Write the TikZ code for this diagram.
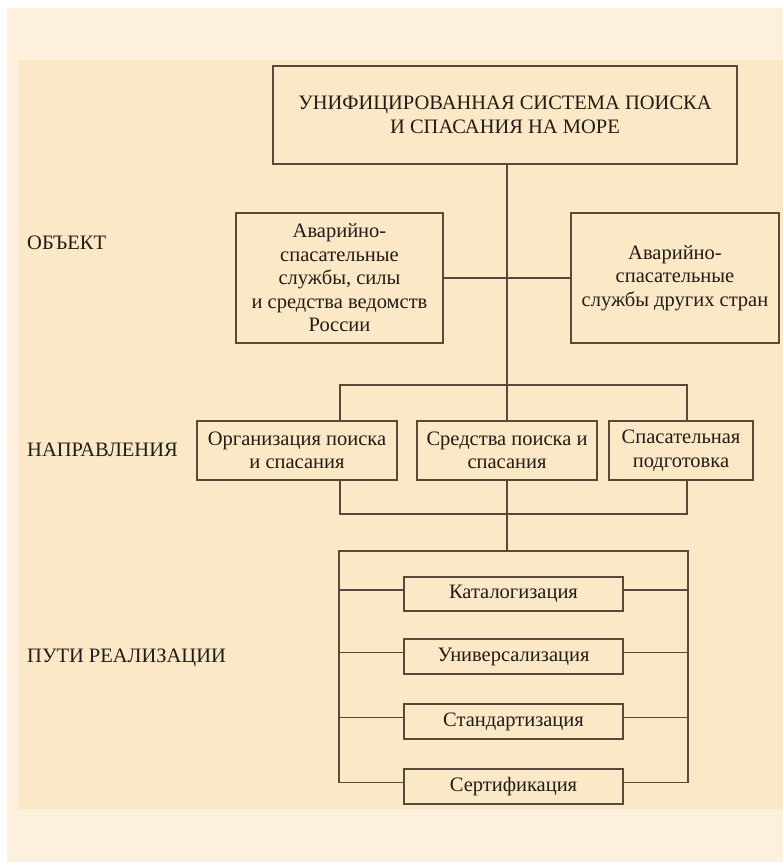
\documentclass[tikz,border=0pt]{standalone}
\usepackage{fontspec}
\setmainfont{Liberation Serif}
\usetikzlibrary{calc}
\definecolor{outerbg}{HTML}{FDF1DE}
\definecolor{innerbg}{HTML}{FBE8C7}
\definecolor{linec}{HTML}{574A3B}
\definecolor{textc}{HTML}{221C16}
\tikzset{
  box/.style={draw=linec, line width=1.6pt, fill=innerbg, align=center, inner sep=0pt,
    font=\fontsize{20.5}{23.5}\selectfont, text=textc},
  lab/.style={anchor=west, inner sep=0pt, font=\fontsize{20.5}{23.5}\selectfont, text=textc},
  conn/.style={draw=linec, line width=1.6pt}
}
\begin{document}
\begin{tikzpicture}[x=1pt,y=-1pt]
\useasboundingbox (0,0) rectangle (783,862);
\fill[white] (0,0) rectangle (783,862);
\fill[outerbg] (7,8) rectangle (783,862);
\fill[innerbg] (19,60) rectangle (783,809);

% labels
\node[lab] (lobj) at (27,243) {ОБЪЕКТ};
\node[lab] (ldir) at (27,450) {НАПРАВЛЕНИЯ};
\node[lab] (lway) at (27,658) {ПУТИ РЕАЛИЗАЦИИ};

\coordinate (bl) at (340,385);
\coordinate (br) at (687,385);
\coordinate (cl) at (340,514);
\coordinate (cr) at (687,514);
\coordinate (ql) at (339,551);
\coordinate (qr) at (688,551);
\coordinate (mid) at (507,551);

% boxes
\node[box, minimum width=464pt, minimum height=98pt] (top) at (505,115)
  {УНИФИЦИРОВАННАЯ СИСТЕМА ПОИСКА\\И СПАСАНИЯ НА МОРЕ};
\node[box, minimum width=207pt, minimum height=130pt] (objL) at (339.5,278)
  {Аварийно-\\спасательные\\службы, силы\\и средства ведомств\\России};
\node[box, minimum width=208pt, minimum height=130pt] (objR) at (675,278)
  {Аварийно-\\спасательные\\службы других стран};
\node[box, minimum width=200pt, minimum height=59pt] (d1) at (297,450.5)
  {Организация поиска\\и спасания};
\node[box, minimum width=180pt, minimum height=59pt] (d2) at (507,450.5)
  {Средства поиска и\\спасания};
\node[box, minimum width=144pt, minimum height=59pt] (d3) at (681,450.5)
  {Спасательная\\подготовка};
\node[box, minimum width=219pt, minimum height=34.5pt] (p1) at (513.5,594) {Каталогизация};
\node[box, minimum width=219pt, minimum height=34.5pt] (p2) at (513.5,656.5) {Универсализация};
\node[box, minimum width=219pt, minimum height=34.5pt] (p3) at (513.5,721.5) {Стандартизация};
\node[box, minimum width=219pt, minimum height=34.5pt] (p4) at (513.5,786.5) {Сертификация};

% connectors
\draw[conn] (top.south -| d2.north) -- (d2.north);
\draw[conn] (objL.east) -- (objR.west);
\draw[conn] (d1.north -| bl) -- (bl) -- (br) -- (d3.north -| br);
\draw[conn] (d1.south -| cl) -- (cl) -- (cr) -- (d3.south -| cr);
\draw[conn] (d2.south) -- (mid);
\draw[conn] ([yshift=4pt]p4.west -| ql) -- (ql) -- (qr) -- ([yshift=4pt]p4.east -| qr);
\foreach \p in {p1,p2,p3,p4}{
  \draw[conn] ([yshift=4pt]\p.west -| ql) -- ([yshift=4pt]\p.west);
  \draw[conn] ([yshift=4pt]\p.east) -- ([yshift=4pt]\p.east -| qr);
}
\end{tikzpicture}
\end{document}
